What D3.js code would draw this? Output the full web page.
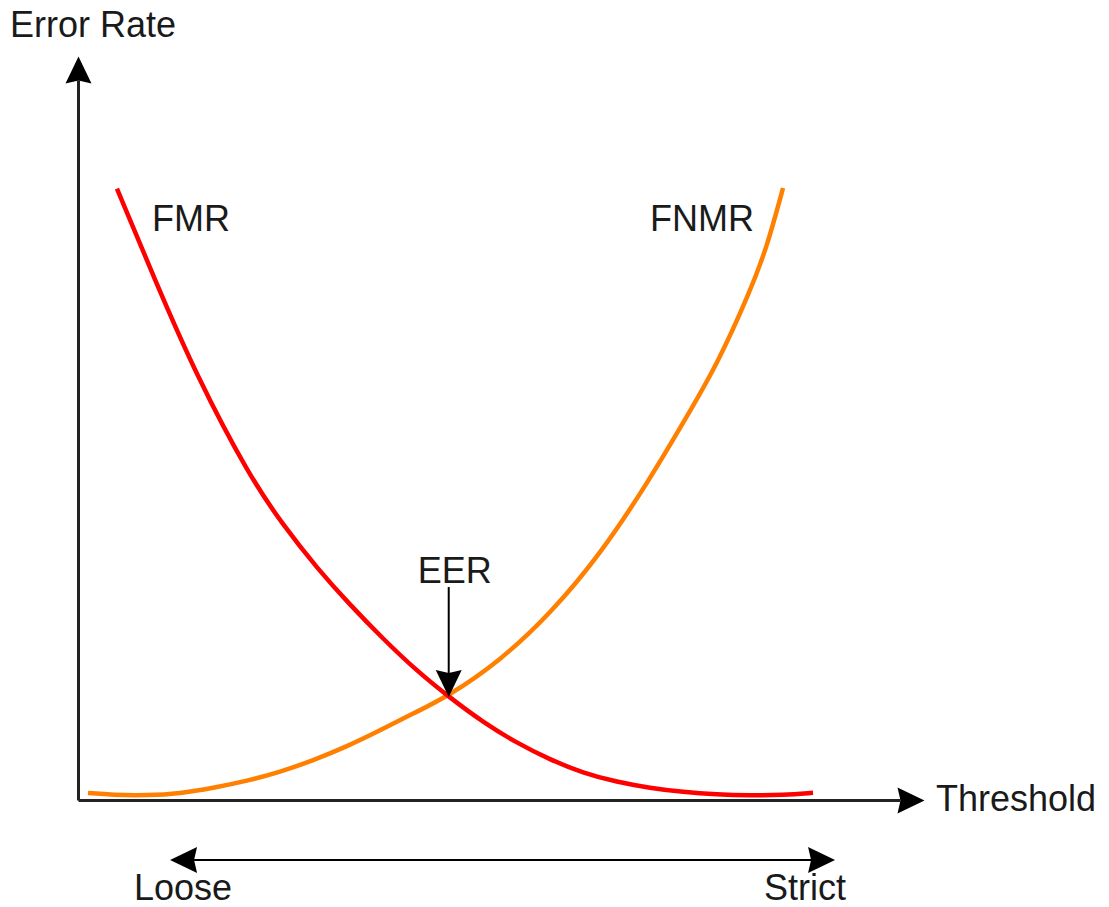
<!DOCTYPE html>
<html>
<head>
<meta charset="utf-8">
<script src="https://cdn.jsdelivr.net/npm/d3@7"></script>
<style>
  body { margin: 0; background: #fff; }
  text { font-family: "Liberation Sans", Arial, sans-serif; fill: #1a1a1a; }
</style>
</head>
<body>
<div id="chart"></div>
<script>
// Threshold values (0-100) and error rates (0-100)
var fmrThreshold = [4.74, 9.37, 14.48, 20.92, 24.94, 29.08, 33.09, 37.10, 41.24, 45.26, 49.27, 53.41, 57.42, 61.44, 65.57, 69.59, 73.6, 77.74, 81.75, 85.77, 89.42];
var fmrRate      = [84.9, 72.2, 58.75, 44.86, 38.2, 32.2, 27.1, 22.4, 17.9, 14.2, 10.8, 7.9, 5.6, 3.75, 2.5, 1.67, 1.1, 0.76, 0.63, 0.7, 1.0];

var fnmrThreshold = [1.22, 4.26, 8.39, 12.41, 16.42, 20.56, 24.57, 28.59, 32.73, 36.74, 40.75, 44.89, 51.34, 57.42, 63.5, 69.59, 73.6, 77.74, 81.75, 83.82, 85.77];
var fnmrRate      = [0.97, 0.69, 0.63, 0.9, 1.67, 2.64, 3.89, 5.49, 7.43, 9.65, 12.01, 14.31, 19.31, 25.83, 34.03, 44.58, 52.36, 60.4, 70.6, 76.81, 85.0];

// Equal error rate point and the loose/strict range
var eerPoint = { threshold: 45.1, rate: 14.3 };
var rangeTips = [11.2, 92.1];

var width = 1109;
var height = 907;

var svg = d3.select("#chart")
  .append("svg")
  .attr("width", width)
  .attr("height", height);

// Arrow head (tip 24px past the line end)
svg.append("defs").append("marker")
  .attr("id", "arrow")
  .attr("viewBox", "-1 -14 30 28")
  .attr("markerUnits", "userSpaceOnUse")
  .attr("markerWidth", 30)
  .attr("markerHeight", 28)
  .attr("refX", 3)
  .attr("refY", 0)
  .attr("orient", "auto-start-reverse")
  .append("path")
  .attr("d", "M27,0 L0,-13 L3,0 L0,13 Z")
  .attr("fill", "#000");

// Scales
var x = d3.scaleLinear().domain([0, 100]).range([78, 900]);
var y = d3.scaleLinear().domain([0, 100]).range([800, 80]);

// Axes: only the domain line, no ticks
var xAxis = svg.append("g")
  .attr("transform", "translate(0," + y(0) + ")")
  .call(d3.axisBottom(x).ticks(0).tickSizeOuter(0));

var yAxis = svg.append("g")
  .attr("transform", "translate(" + x(0) + ",0)")
  .call(d3.axisLeft(y).ticks(0).tickSizeOuter(0));

[xAxis, yAxis].forEach(function(g) {
  g.select(".domain")
    .attr("stroke", "#222")
    .attr("stroke-width", 3)
    .attr("marker-end", "url(#arrow)");
});

// Curves
var line = d3.line()
  .x(d => x(d[0]))
  .y(d => y(d[1]))
  .curve(d3.curveBasis);

var fmrData = fmrThreshold.map((t, i) => [t, fmrRate[i]]);
var fnmrData = fnmrThreshold.map((t, i) => [t, fnmrRate[i]]);

svg.append("path")
  .datum(fnmrData)
  .attr("fill", "none")
  .attr("stroke", "#ff8000")
  .attr("stroke-width", 4.5)
  .attr("d", line);

svg.append("path")
  .datum(fmrData)
  .attr("fill", "none")
  .attr("stroke", "#ff0000")
  .attr("stroke-width", 4.5)
  .attr("d", line);

// EER annotation arrow
var eerX = x(eerPoint.threshold);
var eerY = y(eerPoint.rate);
svg.append("line")
  .attr("x1", eerX)
  .attr("y1", eerY - 110)
  .attr("x2", eerX)
  .attr("y2", eerY - 24)
  .attr("stroke", "#000")
  .attr("stroke-width", 2)
  .attr("marker-end", "url(#arrow)");

// Loose / Strict double arrow
svg.append("line")
  .attr("x1", x(rangeTips[0]) + 24)
  .attr("y1", y(0) + 60)
  .attr("x2", x(rangeTips[1]) - 24)
  .attr("y2", y(0) + 60)
  .attr("stroke", "#000")
  .attr("stroke-width", 2)
  .attr("marker-start", "url(#arrow)")
  .attr("marker-end", "url(#arrow)");

// Labels
var fontSize = 36;
function label(txt, px, py, anchor) {
  svg.append("text")
    .attr("x", px)
    .attr("y", py)
    .attr("text-anchor", anchor || "start")
    .attr("font-size", fontSize)
    .text(txt);
}

label("Error Rate", 10, 37);
label("FMR", 152, 231);
label("FNMR", 650, 231);
label("EER", eerX + 6, 583, "middle");
label("Threshold", 936, 811);
label("Loose", 134, 900);
label("Strict", 764, 900);
</script>
</body>
</html>
